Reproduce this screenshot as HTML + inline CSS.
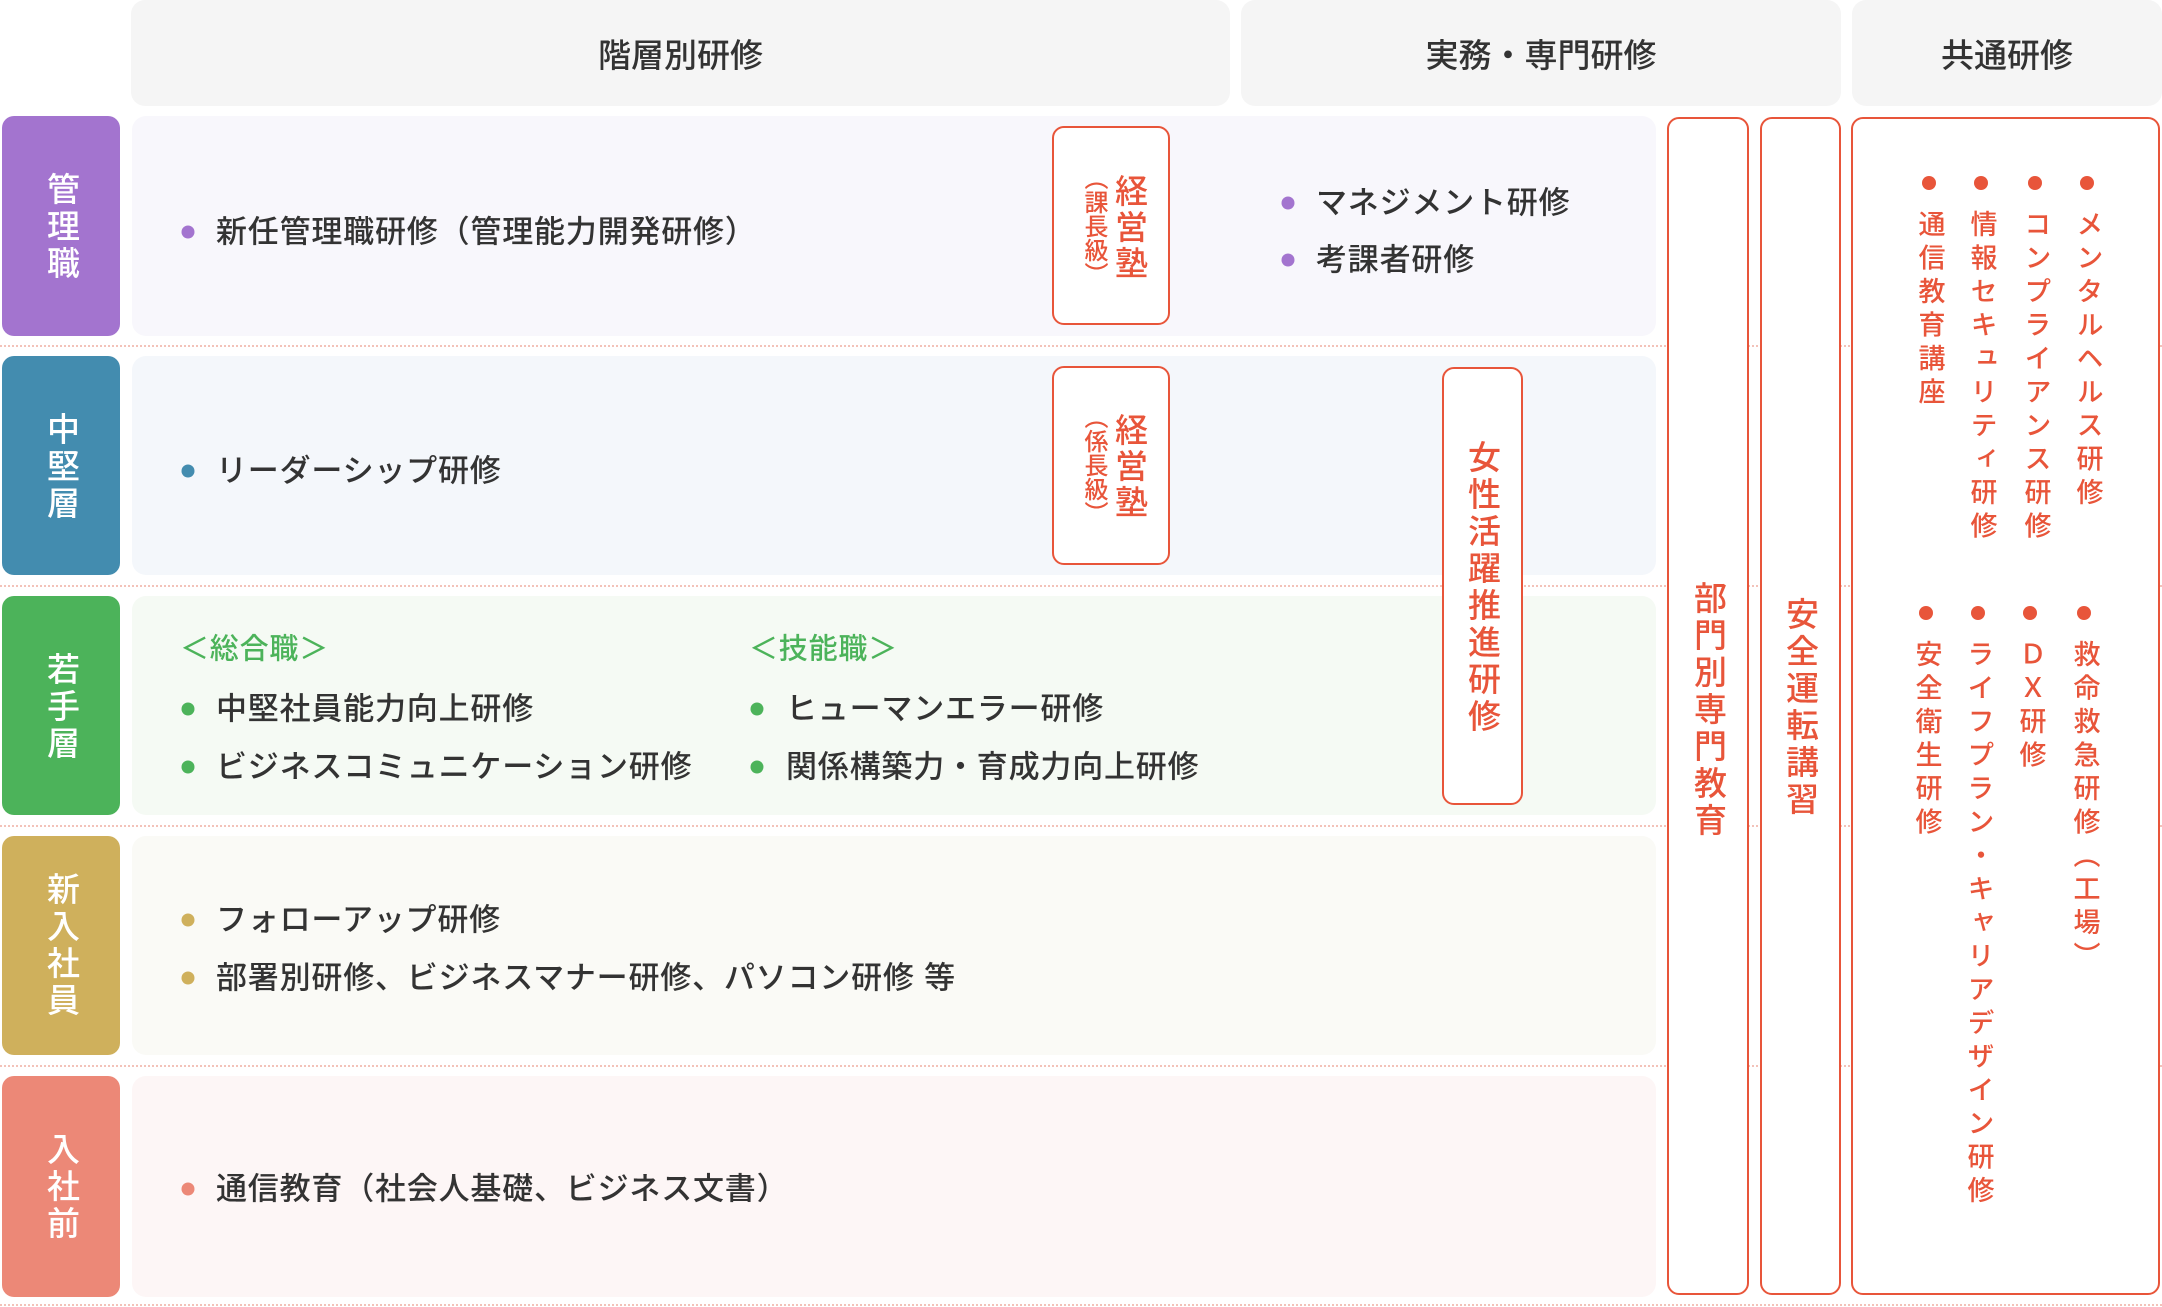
<!DOCTYPE html>
<html><head><meta charset="utf-8"><style>
*{margin:0;padding:0;box-sizing:border-box}
body{width:2162px;height:1307px;position:relative;background:#fff;overflow:hidden;font-family:"Liberation Sans","Noto Sans CJK JP",sans-serif;color:#333;font-weight:500}
.a{position:absolute}
.hd{position:absolute;top:0;height:106px;background:#f5f5f5;border-radius:14px;font-size:33px;display:flex;align-items:center;justify-content:center}
.lab{position:absolute;left:2px;width:118px;border-radius:12px}
.row{position:absolute;left:132px;width:1524px;border-radius:14px}
.dash{position:absolute;left:0;width:2162px;border-top:2px dotted #f3c2b9}
.ob{position:absolute;border:2px solid #e8553a;background:#fff;border-radius:12px}
.v{position:absolute;writing-mode:vertical-rl;text-orientation:upright;line-height:1;transform:translateX(-50%);white-space:nowrap}
.lt{color:#fff;font-size:33px;letter-spacing:4px}
.or{color:#e8553a}
.t{position:absolute;font-size:31px;letter-spacing:0.8px;line-height:1;white-space:nowrap;transform:translateY(-50%)}
.d{position:absolute;width:13px;height:13px;border-radius:50%;transform:translate(-50%,-50%)}
.rd{position:absolute;width:14px;height:14px;border-radius:50%;background:#e8553a;transform:translate(-50%,-50%)}
.rv{font-size:27px;letter-spacing:6.5px;color:#e8553a}
</style></head><body>
<div class="dash" style="top:345px"></div>
<div class="dash" style="top:585px"></div>
<div class="dash" style="top:825px"></div>
<div class="dash" style="top:1065px"></div>
<div class="dash" style="top:1304px"></div>

<div class="hd" style="left:131px;width:1099px">階層別研修</div>
<div class="hd" style="left:1241px;width:600px">実務・専門研修</div>
<div class="hd" style="left:1852px;width:310px">共通研修</div>

<div class="lab" style="top:116px;height:220px;background:#a374cf"></div>
<div class="lab" style="top:356px;height:219px;background:#438caf"></div>
<div class="lab" style="top:596px;height:219px;background:#4cb35a"></div>
<div class="lab" style="top:836px;height:219px;background:#cfb05c"></div>
<div class="lab" style="top:1076px;height:221px;background:#ec8877"></div>
<div class="v lt" style="left:61px;top:172px">管理職</div>
<div class="v lt" style="left:61px;top:412px">中堅層</div>
<div class="v lt" style="left:61px;top:652px">若手層</div>
<div class="v lt" style="left:61px;top:872px">新入社員</div>
<div class="v lt" style="left:61px;top:1132px">入社前</div>

<div class="row" style="top:116px;height:220px;background:#f8f7fc"></div>
<div class="row" style="top:356px;height:219px;background:#f4f7fb"></div>
<div class="row" style="top:596px;height:219px;background:#f5faf4"></div>
<div class="row" style="top:836px;height:219px;background:#fafaf6"></div>
<div class="row" style="top:1076px;height:221px;background:#fdf6f6"></div>

<div class="d" style="left:188px;top:232px;background:#a374cf"></div>
<div class="t" style="left:216px;top:232px">新任管理職研修（管理能力開発研修）</div>
<div class="d" style="left:1288px;top:203px;background:#a374cf"></div>
<div class="t" style="left:1316px;top:203px">マネジメント研修</div>
<div class="d" style="left:1288px;top:260px;background:#a374cf"></div>
<div class="t" style="left:1316px;top:260px">考課者研修</div>

<div class="d" style="left:188px;top:471px;background:#438caf"></div>
<div class="t" style="left:216px;top:471px">リーダーシップ研修</div>

<div class="t" style="left:180px;top:650px;color:#4cb35a;font-size:29px">＜総合職＞</div>
<div class="d" style="left:188px;top:709px;background:#4cb35a"></div>
<div class="t" style="left:216px;top:709px">中堅社員能力向上研修</div>
<div class="d" style="left:188px;top:767px;background:#4cb35a"></div>
<div class="t" style="left:216px;top:767px">ビジネスコミュニケーション研修</div>
<div class="t" style="left:749px;top:650px;color:#4cb35a;font-size:29px">＜技能職＞</div>
<div class="d" style="left:757px;top:709px;background:#4cb35a"></div>
<div class="t" style="left:786px;top:709px">ヒューマンエラー研修</div>
<div class="d" style="left:757px;top:767px;background:#4cb35a"></div>
<div class="t" style="left:786px;top:767px">関係構築力・育成力向上研修</div>

<div class="d" style="left:188px;top:920px;background:#cfb05c"></div>
<div class="t" style="left:216px;top:920px">フォローアップ研修</div>
<div class="d" style="left:188px;top:978px;background:#cfb05c"></div>
<div class="t" style="left:216px;top:978px">部署別研修、ビジネスマナー研修、パソコン研修 等</div>

<div class="d" style="left:188px;top:1189px;background:#ec8877"></div>
<div class="t" style="left:216px;top:1189px">通信教育（社会人基礎、ビジネス文書）</div>

<div class="ob" style="left:1052px;top:126px;width:118px;height:199px"></div>
<div class="v or" style="left:1129px;top:174px;font-size:33px;letter-spacing:3px">経営塾</div>
<div class="v or" style="left:1093px;top:166px;font-size:24px;letter-spacing:0px">（課長級）</div>
<div class="ob" style="left:1052px;top:366px;width:118px;height:199px"></div>
<div class="v or" style="left:1129px;top:413px;font-size:33px;letter-spacing:3px">経営塾</div>
<div class="v or" style="left:1093px;top:405px;font-size:24px;letter-spacing:0px">（係長級）</div>

<div class="ob" style="left:1442px;top:367px;width:81px;height:438px"></div>
<div class="v or" style="left:1482px;top:440px;font-size:33px;letter-spacing:4px">女性活躍推進研修</div>

<div class="ob" style="left:1667px;top:117px;width:82px;height:1178px"></div>
<div class="v or" style="left:1708px;top:581px;font-size:33px;letter-spacing:4px">部門別専門教育</div>
<div class="ob" style="left:1760px;top:117px;width:81px;height:1178px"></div>
<div class="v or" style="left:1800px;top:597px;font-size:33px;letter-spacing:4px">安全運転講習</div>

<div class="ob" style="left:1851px;top:117px;width:309px;height:1178px"></div>
<div class="rd" style="left:2087px;top:183px"></div>
<div class="v rv" style="left:2087px;top:210px">メンタルヘルス研修</div>
<div class="rd" style="left:2035px;top:183px"></div>
<div class="v rv" style="left:2035px;top:210px">コンプライアンス研修</div>
<div class="rd" style="left:1981px;top:183px"></div>
<div class="v rv" style="left:1981px;top:210px">情報セキュリティ研修</div>
<div class="rd" style="left:1929px;top:183px"></div>
<div class="v rv" style="left:1929px;top:210px">通信教育講座</div>

<div class="rd" style="left:2084px;top:613px"></div>
<div class="v rv" style="left:2084px;top:640px">救命救急研修（工場）</div>
<div class="rd" style="left:2030px;top:613px"></div>
<div class="v rv" style="left:2030px;top:640px">ＤＸ研修</div>
<div class="rd" style="left:1978px;top:613px"></div>
<div class="v rv" style="left:1978px;top:640px">ライフプラン・キャリアデザイン研修</div>
<div class="rd" style="left:1926px;top:613px"></div>
<div class="v rv" style="left:1926px;top:640px">安全衛生研修</div>
</body></html>
